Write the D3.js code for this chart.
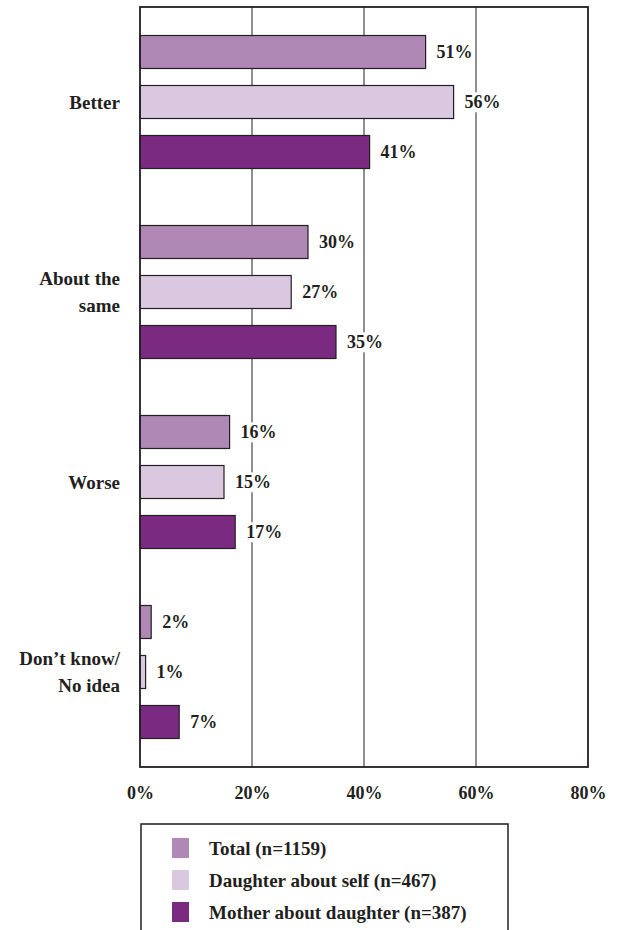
<!DOCTYPE html>
<html><head><meta charset="utf-8">
<script src="https://cdn.jsdelivr.net/npm/d3@7"></script>
<style>body{margin:0;background:#fff}svg{display:block}text{font-family:"Liberation Serif","Times New Roman",serif;font-weight:bold;fill:#231f20}</style>
</head><body>
<svg id="c" width="628" height="930"></svg>
<script>
const categories = [["Better"], ["About the", "same"], ["Worse"], ["Don’t know/", "No idea"]];
const seriesNames = ["Total (n=1159)", "Daughter about self (n=467)", "Mother about daughter (n=387)"];
const seriesColors = ["#b088b5", "#d9c8df", "#7b2a82"];
const totalVals = [51, 30, 16, 2];
const daughterVals = [56, 27, 15, 1];
const motherVals = [41, 35, 17, 7];
const tickVals = [0, 20, 40, 60, 80];

const series = [totalVals, daughterVals, motherVals];
const svg = d3.select("#c");
const L = 140, R = 588, T = 7, B = 767;
const x = d3.scaleLinear().domain([0, 80]).range([L, R]);
const y = d3.scaleBand().domain(d3.range(categories.length)).range([T, B]).padding(0);
const inner = d3.scaleBand().domain([0, 1, 2]).range([-66.5, 66.5]).paddingInner(0.34).paddingOuter(0);

// gridlines
svg.append("g").selectAll("line").data(tickVals.slice(1, -1)).join("line")
  .attr("x1", d => x(d)).attr("x2", d => x(d)).attr("y1", T).attr("y2", B)
  .attr("stroke", "#231f20").attr("stroke-width", 1);

// bars
categories.forEach((c, i) => {
  const g = svg.append("g").attr("transform", `translate(0,${y(i) + y.bandwidth() / 2})`);
  series.forEach((s, j) => {
    const y0 = inner(j);
    g.append("rect").attr("x", x(0)).attr("y", y0).attr("width", x(s[i]) - x(0)).attr("height", inner.bandwidth())
      .attr("fill", seriesColors[j]).attr("stroke", "#231f20").attr("stroke-width", 1.2);
    const t = g.append("text").attr("x", x(s[i]) + 11).attr("y", y0 + inner.bandwidth() / 2).attr("dy", "0.35em")
      .attr("font-size", 18).text(s[i] + "%");
    const bb = t.node().getBBox();
    g.insert("rect", "text").attr("x", bb.x - 2).attr("y", bb.y).attr("width", bb.width + 4).attr("height", bb.height).attr("fill", "#fff");
  });
  const lines = c;
  const tx = svg.append("text").attr("text-anchor", "end").attr("font-size", 19)
    .attr("transform", `translate(120,${y(i) + y.bandwidth() / 2})`);
  lines.forEach((ln, k) => {
    tx.append("tspan").attr("x", 0).attr("y", (k - (lines.length - 1) / 2) * 27).attr("dy", "0.35em").text(ln);
  });
});

// frame
svg.append("rect").attr("x", L).attr("y", T).attr("width", R - L).attr("height", B - T)
  .attr("fill", "none").attr("stroke", "#231f20").attr("stroke-width", 1.8);

// axis labels
const ax = d3.axisBottom(x).tickValues(tickVals).tickFormat(d => d + "%").tickSize(0).tickPadding(0);
const axg = svg.append("g").attr("transform", `translate(0,${B})`).call(ax);
axg.select(".domain").remove();
axg.selectAll("text").attr("font-size", 18).attr("font-family", null).attr("fill", null).attr("y", 26).attr("dy", "0.35em");

// legend
svg.append("rect").attr("x", 141).attr("y", 824).attr("width", 367).attr("height", 130)
  .attr("fill", "none").attr("stroke", "#231f20").attr("stroke-width", 1.5);
seriesNames.forEach((n, j) => {
  const ly = 848 + j * 32;
  svg.append("rect").attr("x", 172).attr("y", ly - 10).attr("width", 17).attr("height", 20).attr("fill", seriesColors[j]);
  svg.append("text").attr("x", 209).attr("y", ly).attr("dy", "0.35em").attr("font-size", 19).text(n);
});
</script>
</body></html>
